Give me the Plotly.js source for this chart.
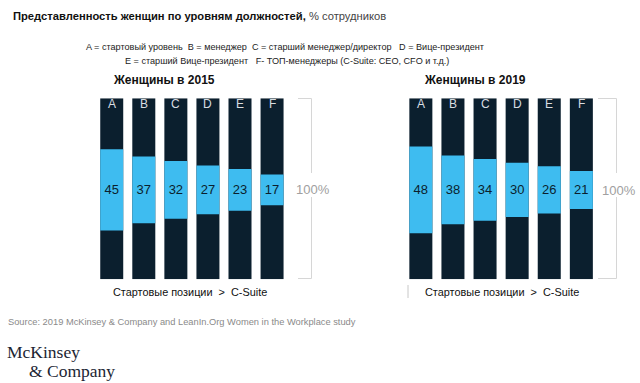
<!DOCTYPE html>
<html><head><meta charset="utf-8">
<script src="https://cdn.plot.ly/plotly-3.0.1.min.js"></script>
<style>html,body{margin:0;padding:0;background:#fff;}#chart{width:640px;height:383px;}</style>
</head><body><div id="chart"></div>
<script>
const categories = ['A','B','C','D','E','F'];
const values2015 = [45,37,32,27,23,17];
const values2019 = [48,38,34,30,26,21];
const fullShare = [100,100,100,100,100,100];

const NAVY = '#0b1f2e';
const BLUE = '#3ebcf0';
const W = 640, H = 383;
const px = x => x / W;
const py = y => 1 - y / H;

function panel(vals, xa, ya) {
  return [
    {type:'bar', x:categories, y:fullShare, base:0, xaxis:xa, yaxis:ya,
     marker:{color:NAVY, line:{width:0}}, hoverinfo:'skip', showlegend:false},
    {type:'bar', x:categories, y:vals, base:vals.map(v => (100 - v)/2 - 0.6), xaxis:xa, yaxis:ya,
     marker:{color:BLUE, line:{width:0}}, text:vals.map(String), textposition:'inside',
     insidetextanchor:'middle', textangle:0, constraintext:'none',
     textfont:{family:'Liberation Sans, Arial, sans-serif', size:13, color:NAVY},
     hoverinfo:'skip', showlegend:false}
  ];
}

const data = [...panel(values2015,'x','y'), ...panel(values2019,'x2','y2')];

const annotations = [];
function txt(text, x, y, size, color, opts) {
  annotations.push(Object.assign({xref:'paper', yref:'paper', x:px(x), y:py(y), text:text,
    showarrow:false, xanchor:'left', yanchor:'middle',
    font:{family:'Liberation Sans, Arial, sans-serif', size:size, color:color}}, opts||{}));
}
txt('<b>Представленность женщин по уровням должностей,</b> <span style="color:#444">% сотрудников</span>', 11, 15.7, 11.2, '#111');
txt('A = стартовый уровень  B = менеджер  C = старший менеджер/директор   D = Вице-президент', 285, 46.7, 9.1, '#222', {xanchor:'center'});
txt('E = старший Вице-президент   F- ТОП-менеджеры (C-Suite: CEO, CFO и т.д.)', 287, 61, 9.1, '#222', {xanchor:'center'});
txt('<b>Женщины в 2015</b>', 110.5, 80, 12, '#111');
txt('<b>Женщины в 2019</b>', 421.5, 80, 12, '#111');
txt('Стартовые позиции  >  C-Suite', 110.5, 291.7, 10.9, '#111');
txt('Стартовые позиции  >  C-Suite', 422.5, 291.7, 10.9, '#111');
txt('100%', 293.5, 189, 13, '#a0a0a0');
txt('100%', 600, 190, 13, '#a0a0a0');
txt('Source: 2019 McKinsey & Company and LeanIn.Org Women in the Workplace study', 5.5, 322, 9.3, '#8a8a8a');
txt('McKinsey', 4.5, 352, 17.5, '#1c2533', {font:{family:'Liberation Serif, Times New Roman, serif', size:17.5, color:'#1c2533'}});
txt('&amp; Company', 26.5, 370.5, 17.5, '#1c2533', {font:{family:'Liberation Serif, Times New Roman, serif', size:17.5, color:'#1c2533'}});

[['x','y'],['x2','y2']].forEach(([xa,ya]) => {
  categories.forEach(c => annotations.push({xref:xa, yref:ya, x:c, y:100, yshift:-6,
    text:c, showarrow:false, yanchor:'middle', xanchor:'center',
    font:{family:'Liberation Sans, Arial, sans-serif', size:12, color:'#d8dde2'}}));
});

const line = {color:'#d6d6d6', width:1};
function bracket(x0, x1, yTop, yGap0, yGap1, yBot) {
  return [
    {type:'line', xref:'paper', yref:'paper', x0:px(x0), x1:px(x1), y0:py(yTop), y1:py(yTop), line},
    {type:'line', xref:'paper', yref:'paper', x0:px(x1), x1:px(x1), y0:py(yTop), y1:py(yGap0), line},
    {type:'line', xref:'paper', yref:'paper', x0:px(x1), x1:px(x1), y0:py(yGap1), y1:py(yBot), line},
    {type:'line', xref:'paper', yref:'paper', x0:px(x0), x1:px(x1), y0:py(yBot), y1:py(yBot), line}
  ];
}
const shapes = [
  ...bracket(298, 311.5, 98.5, 173, 197, 278.5),
  ...bracket(598, 616.5, 98.5, 173, 197, 278.5),
  {type:'line', xref:'paper', yref:'paper', x0:px(408), x1:px(408), y0:py(285), y1:py(298), line:{color:'#c8c8c8', width:1}}
];

const axX = d => ({domain:d, type:'category', range:[-0.5,5.5], showticklabels:false, showgrid:false, zeroline:false, showline:false, ticks:'', fixedrange:true});
const axY = (anchor) => ({domain:[py(279.3), py(98.3)], range:[0,100], showticklabels:false, showgrid:false, zeroline:false, showline:false, ticks:'', anchor:anchor, fixedrange:true});

const layout = {
  width:W, height:H, margin:{l:0,r:0,t:0,b:0},
  paper_bgcolor:'#fff', plot_bgcolor:'rgba(0,0,0,0)',
  barmode:'overlay', bargap:0.283,
  xaxis:Object.assign(axX([px(95.7), px(288.1)]), {anchor:'y'}),
  yaxis:axY('x'),
  xaxis2:Object.assign(axX([px(404.8), px(597.4)]), {anchor:'y2'}),
  yaxis2:axY('x2'),
  annotations, shapes, showlegend:false
};

Plotly.newPlot('chart', data, layout, {displayModeBar:false, staticPlot:true});
</script></body></html>
